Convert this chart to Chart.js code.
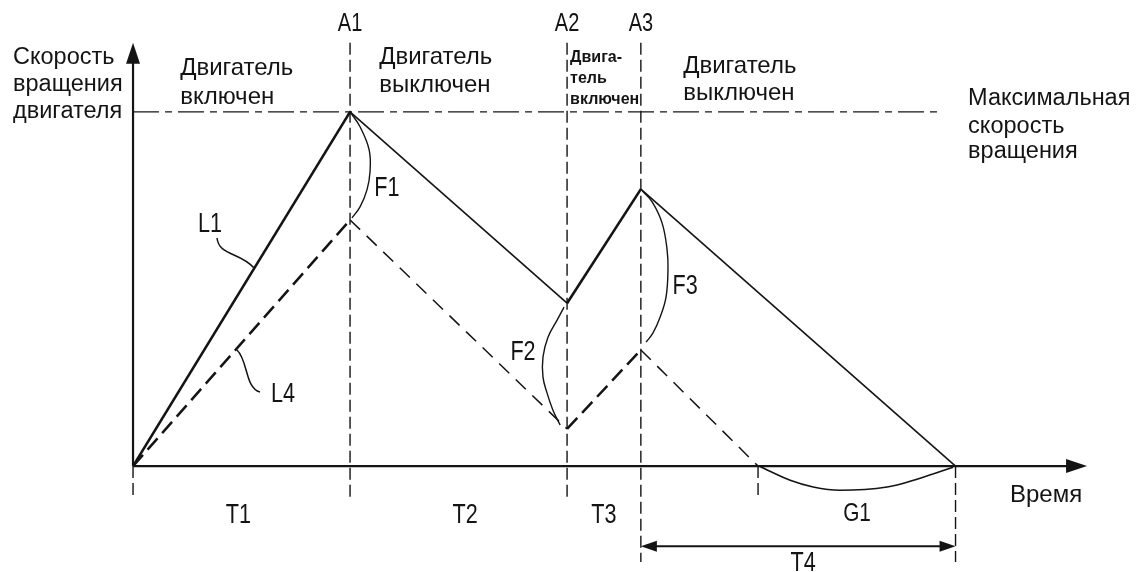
<!DOCTYPE html>
<html>
<head>
<meta charset="utf-8">
<script src="https://cdn.jsdelivr.net/npm/chart.js@4"></script>
<style>
  html, body { margin: 0; background: #fff; }
  #wrap { width: 1140px; height: 572px; position: relative; }
</style>
</head>
<body>
<div id="wrap"><canvas id="chart"></canvas></div>
<script>
/* global Chart */

// time in arbitrary units, engine speed in % of the maximum
const maxSpeed = 100;
const switchTimes = [10, 20, 23.4];
const switchLabels = ['A1', 'A2', 'A3'];

const l1Time = [0, 10, 20, 23.4, 37.9];
const l1Speed = [0, 100, 46, 78.2, 0];
const l4Time = [0, 10, 20, 23.4, 28.8];
const l4Speed = [0, 69.5, 10.5, 32.8, 0];

// braces F1, F2, F3 and G1
const f1Time = [10, 10.46, 10.88, 10.92, 10.78, 10.46, 10.09];
const f1Speed = [100, 95.8, 89.3, 83.1, 78.0, 73.2, 70.1];
const f2Time = [19.86, 19.54, 19.12, 18.89, 18.89, 19.08, 19.35, 19.68];
const f2Speed = [44.9, 41.2, 36.4, 30.8, 25.1, 20.6, 15.8, 11.6];
const f3Time = [23.46, 23.92, 24.38, 24.61, 24.65, 24.56, 24.29, 23.96, 23.64];
const f3Speed = [77.7, 74.6, 68.6, 61.0, 55.4, 47.7, 42.1, 37.6, 35.0];
const g1Time = [28.85, 29.22, 30.28, 31.34, 32.58, 34.75, 36.27, 37.79];
const g1Speed = [0, -1.1, -4.0, -5.9, -6.8, -5.9, -3.4, -0.3];

const periodLabels = ['T1', 'T2', 'T3'];
const periodPos = [4.85, 15.3, 21.7];

const INK = '#141414';
const FONT = '"Liberation Sans", Arial, sans-serif';

const pts = (ts, vs) => ts.map((t, i) => ({ x: t, y: vs[i] }));
const rising = ctx => ctx.p1.parsed.y > ctx.p0.parsed.y;

const lineSet = (data, extra) => Object.assign({
  data,
  showLine: true,
  borderColor: INK,
  borderWidth: 1.5,
  pointRadius: 0,
  tension: 0,
  fill: false
}, extra);

const at = (chart, t, v) => [chart.scales.x.getPixelForValue(t), chart.scales.y.getPixelForValue(v)];

const text = (ctx, str, x, y, size, opts = {}) => {
  ctx.save();
  ctx.fillStyle = INK;
  ctx.font = `${opts.weight || 'normal'} ${size}px ${FONT}`;
  ctx.textBaseline = 'middle';
  ctx.textAlign = opts.align || 'left';
  const sx = opts.sx || 1;
  ctx.translate(x, y);
  ctx.scale(sx, 1);
  ctx.fillText(str, 0, 0);
  ctx.restore();
};

const tri = (ctx, a, b, c) => {
  ctx.beginPath();
  ctx.moveTo(a[0], a[1]);
  ctx.lineTo(b[0], b[1]);
  ctx.lineTo(c[0], c[1]);
  ctx.closePath();
  ctx.fill();
};

const diagram = {
  id: 'diagram',
  beforeDatasetsDraw(chart) {
    const ctx = chart.ctx;
    ctx.save();
    ctx.strokeStyle = INK;
    ctx.fillStyle = INK;

    // vertical guides
    const guides = [
      [0, 0, -9.6], [switchTimes[0], 119.5, -9.6], [switchTimes[1], 119.5, -9.6],
      [switchTimes[2], 119.5, -27.1], [l4Time[4], 0, -9.6], [l1Time[4], 0, -27.1]
    ];
    ctx.lineWidth = 1.4;
    ctx.setLineDash([12, 5]);
    guides.forEach(g => {
      const a = at(chart, g[0], g[1]);
      const b = at(chart, g[0], g[2]);
      ctx.beginPath();
      ctx.moveTo(a[0], a[1]);
      ctx.lineTo(b[0], b[1]);
      ctx.stroke();
    });

    // max speed line
    ctx.setLineDash([26, 6, 7, 6]);
    ctx.lineWidth = 1.3;
    let a = at(chart, 0, maxSpeed);
    let b = at(chart, 37.05, maxSpeed);
    ctx.beginPath();
    ctx.moveTo(a[0], a[1]);
    ctx.lineTo(b[0], b[1]);
    ctx.stroke();

    // axes
    ctx.setLineDash([]);
    ctx.lineWidth = 2.2;
    const o = at(chart, 0, 0);
    const xt = at(chart, 43.96, 0);
    const yt = at(chart, 0, 119.5);
    ctx.beginPath();
    ctx.moveTo(o[0], o[1]);
    ctx.lineTo(xt[0] - 18, xt[1]);
    ctx.moveTo(o[0], o[1]);
    ctx.lineTo(yt[0], yt[1] + 18);
    ctx.stroke();
    tri(ctx, xt, [xt[0] - 21, xt[1] - 7], [xt[0] - 21, xt[1] + 7]);
    tri(ctx, yt, [yt[0] - 7, yt[1] + 21], [yt[0] + 7, yt[1] + 21]);

    // T4 double arrow
    a = at(chart, switchTimes[2], -22.6);
    b = at(chart, l1Time[4], -22.6);
    ctx.lineWidth = 2;
    ctx.beginPath();
    ctx.moveTo(a[0] + 14, a[1]);
    ctx.lineTo(b[0] - 14, b[1]);
    ctx.stroke();
    tri(ctx, a, [a[0] + 16, a[1] - 5.5], [a[0] + 16, a[1] + 5.5]);
    tri(ctx, b, [b[0] - 16, b[1] - 5.5], [b[0] - 16, b[1] + 5.5]);

    // leaders for L1 and L4
    ctx.lineWidth = 1.5;
    const leaders = [
      [[3.87, 64.4], [3.96, 59.3], [4.93, 60.5], [5.58, 55.9]],
      [[5.85, 20.9], [5.16, 22.0], [5.3, 29.9], [4.79, 32.8]]
    ];
    leaders.forEach(l => {
      const p = l.map(q => at(chart, q[0], q[1]));
      ctx.beginPath();
      ctx.moveTo(p[0][0], p[0][1]);
      ctx.bezierCurveTo(p[1][0], p[1][1], p[2][0], p[2][1], p[3][0], p[3][1]);
      ctx.stroke();
    });
    ctx.restore();
  },
  afterDatasetsDraw(chart) {
    const ctx = chart.ctx;
    const put = (str, t, v, size, opts) => {
      const p = at(chart, t, v);
      text(ctx, str, p[0], p[1], size, opts);
    };
    const block = (lines, t, vs, size, opts) => lines.forEach((s, i) => put(s, t, vs[i], size, opts));

    block(['Скорость', 'вращения', 'двигателя'], -5.53, [115.3, 107.6, 100], 23.5);
    block(['Двигатель', 'включен'], 2.17, [112.4, 104.2], 24);
    block(['Двигатель', 'выключен'], 11.34, [115.3, 107.6], 24);
    block(['Двига-', 'тель', 'включен'], 20.14, [115.3, 109.3, 103.4], 16, { weight: 'bold' });
    block(['Двигатель', 'выключен'], 25.35, [113, 105.1], 24);
    block(['Максимальная', 'скорость', 'вращения'], 38.48, [103.7, 96, 88.7], 23.5);
    put('Время', 40.41, -8.2, 24);

    const nar = { align: 'center', sx: 0.8 };
    switchLabels.forEach((s, i) => put(s, switchTimes[i], 124.9, 25, nar));
    periodLabels.forEach((s, i) => put(s, periodPos[i], -14.1, 27, nar));
    put('L1', 3.55, 68.1, 27, nar);
    put('L4', 6.91, 20.1, 27, nar);
    put('F1', 11.7, 78.5, 27, nar);
    put('F2', 17.97, 32.2, 27, nar);
    put('F3', 25.44, 50.6, 27, nar);
    put('G1', 33.36, -13.6, 26, nar);
    put('T4', 30.88, -27.4, 27, nar);
  }
};

new Chart(document.getElementById('chart').getContext('2d'), {
  type: 'scatter',
  data: {
    datasets: [
      lineSet(pts(l1Time, l1Speed), {
        segment: { borderWidth: ctx => rising(ctx) ? 2.6 : 1.6 }
      }),
      lineSet(pts(l4Time, l4Speed), {
        segment: {
          borderWidth: ctx => rising(ctx) ? 2.5 : 1.5,
          borderDash: ctx => rising(ctx) ? [15, 7] : [14, 9]
        }
      }),
      lineSet(pts(f1Time, f1Speed), { tension: 0.4, borderWidth: 1.4 }),
      lineSet(pts(f2Time, f2Speed), { tension: 0.4, borderWidth: 1.4 }),
      lineSet(pts(f3Time, f3Speed), { tension: 0.4, borderWidth: 1.4 }),
      lineSet(pts(g1Time, g1Speed), { tension: 0.4, borderWidth: 1.6 })
    ]
  },
  options: {
    responsive: true,
    maintainAspectRatio: false,
    animation: false,
    layout: { padding: 0 },
    plugins: { legend: { display: false }, tooltip: { enabled: false } },
    scales: {
      x: { type: 'linear', display: false, min: -6.13, max: 46.4 },
      y: { type: 'linear', display: false, min: -29.9, max: 131.6 }
    }
  },
  plugins: [diagram]
});
</script>
</body>
</html>
